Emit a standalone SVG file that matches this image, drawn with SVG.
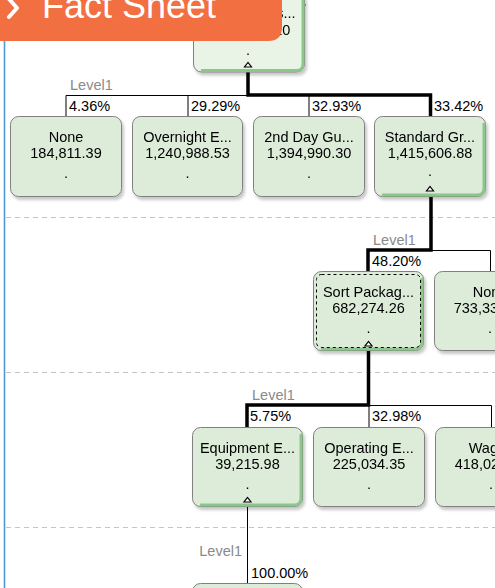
<svg xmlns="http://www.w3.org/2000/svg" width="495" height="588" viewBox="0 0 495 588">
<defs>
<filter id="sh" x="-10%" y="-10%" width="125%" height="130%">
<feDropShadow dx="2" dy="3" stdDeviation="1.5" flood-color="#000" flood-opacity="0.22"/>
</filter>
</defs>
<style>
text{font-family:"Liberation Sans",Arial,sans-serif;font-size:14.5px;fill:#000}
.c{text-anchor:middle}
.lv{fill:#8a8a8a}
.box{fill:#dcecd9;stroke:#808080;stroke-width:1}
.top{fill:#e9f4e6}
.sel{fill:none;stroke:#8cc78a;stroke-width:3}
.tri{fill:#fff;stroke:#000;stroke-width:1.2}
.thin{fill:none;stroke:#000;stroke-width:1}
.thick{fill:none;stroke:#000;stroke-width:3.5;stroke-linejoin:miter}
.sep{stroke:#c4c4c4;stroke-width:1;stroke-dasharray:5 4}
.focus{fill:none;stroke:#000;stroke-width:1;stroke-dasharray:3 3}
</style>
<rect width="495" height="588" fill="#fff"/>
<line x1="4.5" y1="0" x2="4.5" y2="588" stroke="#4a9bd6" stroke-width="1.6"/>
<line x1="4" y1="5" x2="306" y2="5" stroke="#4a9bd6" stroke-width="1.4"/>
<g id="separators">
<line class="sep" x1="6" y1="217.5" x2="495" y2="217.5"/>
<line class="sep" x1="6" y1="372.5" x2="495" y2="372.5"/>
<line class="sep" x1="6" y1="527.5" x2="495" y2="527.5"/>
</g>
<g id="connectors">
<path class="thin" d="M66,95.5 H248 M66,95.5 V116 M188,95.5 V116 M309,95.5 V116"/>
<path class="thick" d="M248,72 V95 H430.5 V116"/>
<path class="thin" d="M431,250.5 H490.5 V271"/>
<path class="thick" d="M431,196 V250 H368 V271"/>
<path class="thin" d="M369,405.5 H491.5 V427 M369,405.5 V427"/>
<path class="thick" d="M368.5,350 V405 H247 V427"/>
<path class="thin" d="M247.5,507 V588"/>
<text class="lv" x="70" y="90">Level1</text>
<text x="69" y="111">4.36%</text>
<text x="191" y="111">29.29%</text>
<text x="312" y="111">32.93%</text>
<text x="434" y="111">33.42%</text>
<text class="lv" x="373" y="245">Level1</text>
<text x="372" y="266">48.20%</text>
<text class="lv" x="252" y="400">Level1</text>
<text x="250" y="421">5.75%</text>
<text x="372" y="421">32.98%</text>
<text class="lv" x="242" y="556" text-anchor="end">Level1</text>
<text x="251" y="578">100.00%</text>
</g>
<g id="n-root" filter="url(#sh)">
<rect class="box top" x="193.5" y="-8" width="111" height="80" rx="8"/>
<path class="sel" d="M303,0 V64 Q303,70.5 296.5,70.5 H201"/>
<text class="c" x="248" y="18">Total Expens...</text>
<text class="c" x="248" y="35">4,236,397.10</text>
<text class="c" x="248" y="55">.</text>
<polygon class="tri" points="244.5,67 251.5,67 248,62.5"/>
</g>
<g id="n-none" filter="url(#sh)">
<rect class="box" x="10.5" y="116.5" width="111" height="80" rx="8"/>
<text class="c" x="66" y="142">None</text>
<text class="c" x="66" y="158">184,811.39</text>
<text class="c" x="66" y="178">.</text>
</g>
<g id="n-overnight" filter="url(#sh)">
<rect class="box" x="132.5" y="116.5" width="110" height="80" rx="8"/>
<text class="c" x="187.5" y="142">Overnight E...</text>
<text class="c" x="187.5" y="158">1,240,988.53</text>
<text class="c" x="187.5" y="178">.</text>
</g>
<g id="n-2ndday" filter="url(#sh)">
<rect class="box" x="253.5" y="116.5" width="111" height="80" rx="8"/>
<text class="c" x="309" y="142">2nd Day Gu...</text>
<text class="c" x="309" y="158">1,394,990.30</text>
<text class="c" x="309" y="178">.</text>
</g>
<g id="n-standard" filter="url(#sh)">
<rect class="box" x="374.5" y="116.5" width="111" height="80" rx="8"/>
<path class="sel" d="M484,123 V188 Q484,195 477,195 H382"/>
<text class="c" x="430" y="142">Standard Gr...</text>
<text class="c" x="430" y="158">1,415,606.88</text>
<text class="c" x="430" y="176">.</text>
<polygon class="tri" points="426.5,191 433.5,191 430,186.5"/>
</g>
<g id="n-sort" filter="url(#sh)">
<rect class="box" x="313.5" y="271.5" width="110" height="79" rx="8"/>
<path class="sel" d="M422,278 V342 Q422,349 415,349 H321"/>
<rect class="focus" x="316.5" y="274.5" width="104" height="73" rx="5"/>
<text class="c" x="368.5" y="297">Sort Packag...</text>
<text class="c" x="368.5" y="313">682,274.26</text>
<text class="c" x="368.5" y="333">.</text>
<polygon class="tri" points="365,346 372,346 368.5,341.5"/>
</g>
<g id="n-none2" filter="url(#sh)">
<rect class="box" x="434.5" y="271.5" width="111" height="79" rx="8"/>
<text class="c" x="490" y="297">None</text>
<text class="c" x="490" y="313">733,332.62</text>
<text class="c" x="490" y="333">.</text>
</g>
<g id="n-equipment" filter="url(#sh)">
<rect class="box" x="192.5" y="427.5" width="110" height="79" rx="8"/>
<path class="sel" d="M301,434 V498 Q301,505 294,505 H200"/>
<text class="c" x="247.5" y="453">Equipment E...</text>
<text class="c" x="247.5" y="469">39,215.98</text>
<text class="c" x="247.5" y="489">.</text>
<polygon class="tri" points="244,502 251,502 247.5,497.5"/>
</g>
<g id="n-operating" filter="url(#sh)">
<rect class="box" x="313.5" y="427.5" width="111" height="79" rx="8"/>
<text class="c" x="369" y="453">Operating E...</text>
<text class="c" x="369" y="469">225,034.35</text>
<text class="c" x="369" y="489">.</text>
</g>
<g id="n-wages" filter="url(#sh)">
<rect class="box" x="435.5" y="427.5" width="111" height="79" rx="8"/>
<text class="c" x="491" y="453">Wages</text>
<text class="c" x="491" y="469">418,023.93</text>
<text class="c" x="491" y="489">.</text>
</g>
<g id="n-level4" filter="url(#sh)">
<rect class="box" x="192.5" y="583.5" width="110" height="79" rx="8"/>
</g>
<g id="banner">
<path d="M0,-2 H282 V27 Q282,41 268,41 H0 Z" fill="#f26f42"/>
<polyline points="9,-1 17,8 9,17" fill="none" stroke="#fff" stroke-width="4" stroke-linecap="round" stroke-linejoin="round"/>
<text x="42" y="18" style="font-family:'Liberation Sans',Arial,sans-serif;font-size:36px;fill:#fff">Fact Sheet</text>
</g>
</svg>
